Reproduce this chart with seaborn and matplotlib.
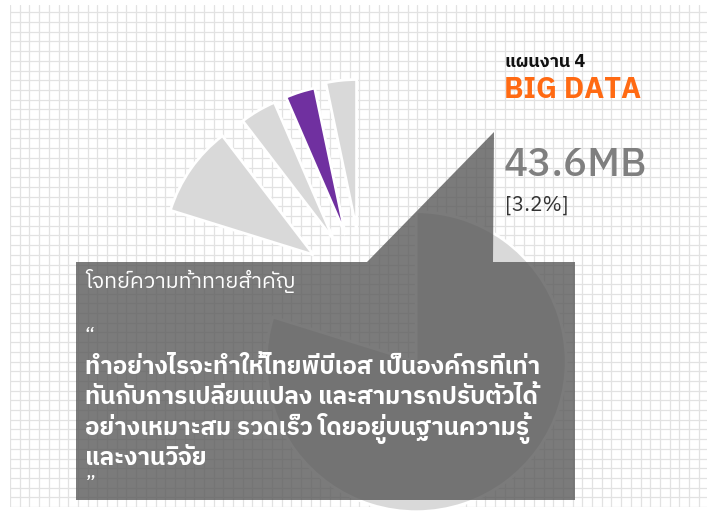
import numpy as np
import matplotlib
matplotlib.use("Agg")
import matplotlib.pyplot as plt
import seaborn as sns
from matplotlib.patches import Polygon

# data (percent of total size), counterclockwise from 12 o'clock
slice_ids = ['d', 'big_data', 'b', 'a', 'rest']
slice_pct = [3.3, 3.2, 3.9, 9.8, 79.8]
highlight = 'big_data'
plan_label = 'แผนงาน 4'
plan_name = 'BIG DATA'
headline_value = '43.6MB'
headline_pct = '[3.2%]'

box_title = 'โจทย์ความท้าทายสำคัญ'
quote_lines = ['ทำอย่างไรจะทำให้ไทยพีบีเอส เป็นองค์กรที่เท่า',
               'ทันกับการเปลี่ยนแปลง และสามารถปรับตัวได้',
               'อย่างเหมาะสม รวดเร็ว โดยอยู่บนฐานความรู้',
               'และงานวิจัย']

sns.set_theme(style="white")
plt.rcParams['font.family'] = ['IBM Plex Sans Thai', 'Noto Sans Thai', 'DejaVu Sans']

fig = plt.figure(figsize=(7.1, 5.12), dpi=100)

# graph paper background
bg = fig.add_axes([10/710, 5/512, 697/710, 502/512])
bg.set_xlim(0, 697)
bg.set_ylim(0, 502)
bg.set_xticks(np.arange(0, 698, 9.7))
bg.set_yticks(np.arange(0, 503, 9.7))
bg.grid(True, color='#e2e2e2', linewidth=0.9)
bg.tick_params(length=0, labelbottom=False, labelleft=False)
for s in bg.spines.values():
    s.set_visible(False)

# main layer in pixel-like units (y up)
ax = fig.add_axes([0, 0, 1, 1])
ax.patch.set_alpha(0)

colors = ['#7030a0' if s == highlight else '#d9d9d9' for s in slice_ids]
explode = [60, 57, 57, 60, 90]  # data units
ax.pie(slice_pct, explode=explode, colors=colors, startangle=90,
       counterclock=True, center=(362.8, 222.8), radius=150, frame=True,
       wedgeprops=dict(edgecolor='white', linewidth=2))
ax.set_xlim(0, 710)
ax.set_ylim(0, 512)
ax.axis('off')

# callout box with pointer
box = Polygon([(76, 250), (367, 250), (494, 380), (493, 250), (575, 250),
               (575, 12), (76, 12)], closed=True, facecolor='#5a5a5a',
              alpha=0.8, edgecolor='none', zorder=3)
ax.add_patch(box)

ax.text(505, 450, plan_label, fontsize=13, fontweight='bold', color='#111111', va='center')
ax.text(504, 422, plan_name, fontsize=21, fontweight='bold', color='#ff6a13', va='center')
ax.text(504, 346, headline_value, fontsize=29, fontweight='medium', color='#7f7f7f', va='center')
ax.text(505, 307, headline_pct, fontsize=15, color='#333333', va='center')

ax.text(85, 231, box_title, fontsize=15.5, color='white', va='center', zorder=4)
ax.text(85, 176, '“', fontsize=15, color='white', va='center', zorder=4)
for i, ln in enumerate(quote_lines):
    ax.text(85, 145 - i*30.5, ln, fontsize=17.5, fontweight='bold',
            color='white', va='center', zorder=4)
ax.text(85, 28, '”', fontsize=15, color='white', va='center', zorder=4)

fig.savefig('out.png', dpi=100)
